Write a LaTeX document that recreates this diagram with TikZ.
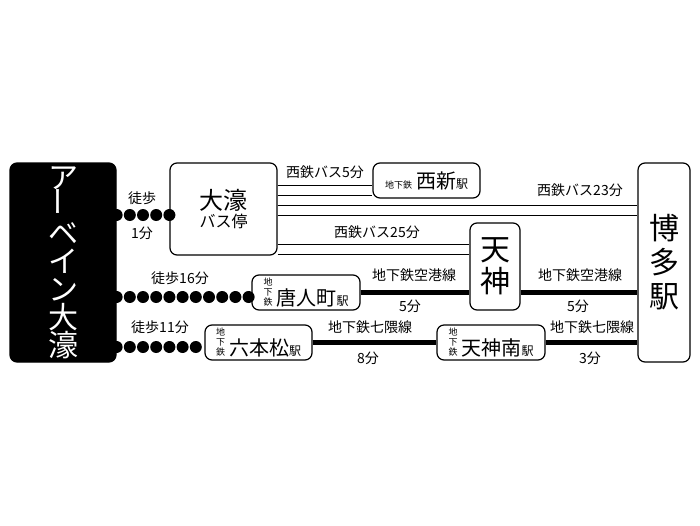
\documentclass[tikz,border=0pt]{standalone}
\usepackage{fontspec}
\setmainfont{Noto Sans CJK JP}
\usetikzlibrary{positioning}
\tikzset{
  box/.style={draw, line width=1.2pt, rounded corners=7pt, inner sep=0pt},
  bus/.style={line width=1pt},
  subway/.style={line width=4.5pt},
  walk/.style={line width=12pt, line cap=round, dash pattern=on 0pt off 13.2pt},
  lbl/.style={font=\fontsize{14}{16}\selectfont, inner sep=1pt}
}
\newcommand{\chika}{\shortstack{\fontsize{9}{9}\selectfont 地\\[-1pt]\fontsize{9}{9}\selectfont 下\\[-1pt]\fontsize{9}{9}\selectfont 鉄}}
\newcommand{\stname}[1]{{\fontsize{20}{22}\selectfont #1}}
\begin{document}
\begin{tikzpicture}[x=1pt,y=-1pt]
  \useasboundingbox (0,0) rectangle (700,525);
  % start and end
  \node[box, fill=black, minimum width=106pt, minimum height=199pt, text=white,
        align=center, font=\fontsize{30}{32}\selectfont] (abn) at (63,262.5)
        {ア\\[-4pt]\rotatebox{90}{ー}\\[-4pt]ベ\\[-4pt]イ\\[-4pt]ン\\[-4pt]大\\[-4pt]濠};
  \node[box, fill=white, minimum width=52pt, minimum height=199pt, align=center,
        font=\fontsize{30}{34}\selectfont] (hakata) at (664,262.5) {博\\多\\駅};
  % stations
  \node[box, minimum width=107pt, minimum height=92pt, align=center] (busstop) at (223.5,209)
        {\fontsize{24}{28}\selectfont 大濠\\[2pt]\fontsize{16}{18}\selectfont バス停};
  \node[box, minimum width=107pt, minimum height=35pt] (nishijin) at (426.5,180.5)
        {{\fontsize{9}{9}\selectfont 地下鉄}\hspace{4pt}\stname{西新}{\fontsize{12}{12}\selectfont 駅}};
  \node[box, minimum width=50pt, minimum height=87pt, align=center,
        font=\fontsize{30}{32}\selectfont] (tenjin) at (495,266.5) {天\\神};
  \node[box, minimum width=108pt, minimum height=35pt] (tojinmachi) at (306,292.5)
        {\chika\hspace{4pt}\stname{唐人町}{\fontsize{12}{12}\selectfont 駅}};
  \node[box, minimum width=107pt, minimum height=35pt] (ropponmatsu) at (258.5,342.5)
        {\chika\hspace{4pt}\stname{六本松}{\fontsize{12}{12}\selectfont 駅}};
  \node[box, minimum width=108pt, minimum height=35pt] (tenjinminami) at (491,342.5)
        {\chika\hspace{4pt}\stname{天神南}{\fontsize{12}{12}\selectfont 駅}};

  % bus lines
  \draw[bus] (busstop.east|-0,185) -- (nishijin.west|-0,185);
  \draw[bus] (busstop.east|-0,195) -- (nishijin.west|-0,195);
  \draw[bus] (busstop.east|-0,205) -- (hakata.west|-0,205);
  \draw[bus] (busstop.east|-0,215) -- (hakata.west|-0,215);
  \draw[bus] (busstop.east|-0,244) -- (tenjin.west|-0,244);
  \draw[bus] (busstop.east|-0,254) -- (tenjin.west|-0,254);
  \node[lbl] (l1) at (325,172) {西鉄バス5分};
  \node[lbl] (l2) at (580,190) {西鉄バス23分};
  \node[lbl] (l3) at (377,232) {西鉄バス25分};

  % subway lines
  \draw[subway] (tojinmachi.east) -- (tenjin.west|-tojinmachi.east);
  \draw[subway] (tenjin.east|-tojinmachi.east) -- (hakata.west|-tojinmachi.east);
  \draw[subway] (ropponmatsu.east) -- (tenjinminami.west);
  \draw[subway] (tenjinminami.east) -- (hakata.west|-tenjinminami.east);
  \node[lbl] (l4) at (414,275) {地下鉄空港線};
  \node[lbl] (l5) at (410,306) {5分};
  \node[lbl] (l6) at (580,275) {地下鉄空港線};
  \node[lbl] (l7) at (578,306) {5分};
  \node[lbl] (l8) at (370,327) {地下鉄七隈線};
  \node[lbl] (l9) at (368,358) {8分};
  \node[lbl] (l10) at (592,327) {地下鉄七隈線};
  \node[lbl] (l11) at (590,358) {3分};

  % walking
  \draw[walk] (abn.east|-0,215) -- (busstop.west|-0,215);
  \draw[walk] (abn.east|-0,297) -- (tojinmachi.west|-0,297);
  \draw[walk] (abn.east|-0,347) -- (ropponmatsu.west|-0,347);
  \node[lbl] (w1) at (142,198) {徒歩};
  \node[lbl] (w2) at (142,233) {1分};
  \node[lbl] (w3) at (180,278) {徒歩16分};
  \node[lbl] (w4) at (160,327) {徒歩11分};
\end{tikzpicture}
\end{document}
